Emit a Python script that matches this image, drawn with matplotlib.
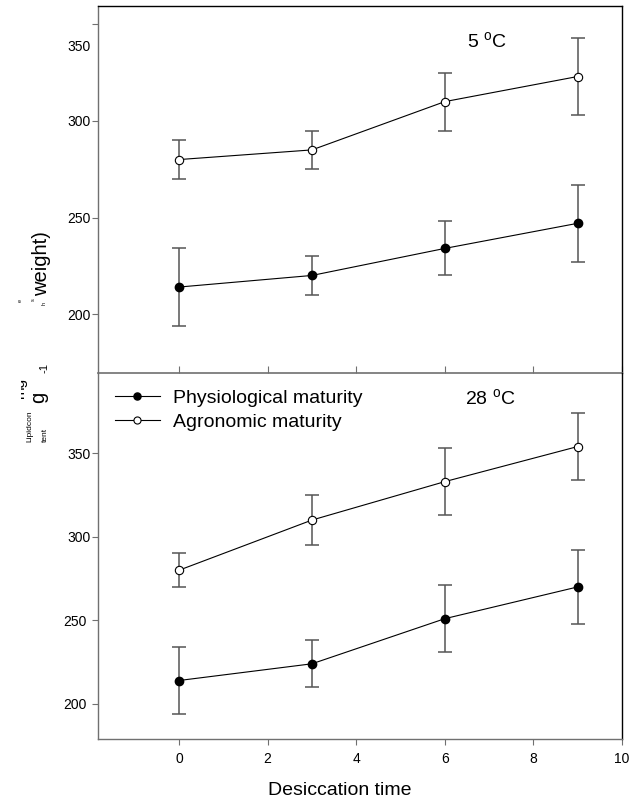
import matplotlib
matplotlib.use('Agg')
import matplotlib.pyplot as plt
from matplotlib.transforms import ScaledTranslation, Bbox

plt.rcParams['font.family'] = ['Liberation Sans', 'DejaVu Sans']
plt.rcParams['mathtext.fontset'] = 'custom'
plt.rcParams['mathtext.rm'] = 'Liberation Sans'

# Desiccation time (x)
times = [0, 3, 6, 9]

# 5 oC panel
phys_5 = [214, 220, 234, 247]
phys_5_err = [20, 10, 14, 20]
agro_5 = [280, 285, 310, 323]
agro_5_err = [10, 10, 15, 20]

# 28 oC panel
phys_28 = [214, 224, 251, 270]
phys_28_err = [20, 14, 20, 22]
agro_28 = [280, 310, 333, 354]
agro_28_err = [10, 15, 20, 20]

yticks = [200, 250, 300, 350]
xticks = [0, 2, 4, 6, 8, 10]

W, H = 634, 805
fig = plt.figure(figsize=(W / 100, H / 100), dpi=100)

left, right = 98 / W, 622 / W
ax1 = fig.add_axes([left, 1 - 373 / H, right - left, (373 - 6) / H])
ax2 = fig.add_axes([left, 1 - 739 / H, right - left, (739 - 373) / H])
for a in (ax1, ax2):
    a.patch.set_visible(False)

gray = '#707070'
errc = '#555555'


def draw_panel(ax, phys, phys_err, agro, agro_err):
    ax.errorbar(times, phys, yerr=phys_err, fmt='none', ecolor=errc,
                elinewidth=1.1, capsize=5, capthick=1.1, zorder=2)
    ax.errorbar(times, agro, yerr=agro_err, fmt='none', ecolor=errc,
                elinewidth=1.1, capsize=5, capthick=1.1, zorder=2)
    l1, = ax.plot(times, phys, '-o', color='black', lw=0.8, ms=6,
                  mfc='black', mec='black', zorder=3,
                  label='Physiological maturity')
    l2, = ax.plot(times, agro, '-o', color='black', lw=0.8, ms=6,
                  mfc='white', mec='black', mew=0.8, zorder=3,
                  label='Agronomic maturity')
    ax.set_xlim(-1.83, 10)
    ax.set_xticks(xticks)
    ax.set_yticks(yticks)
    ax.tick_params(axis='y', direction='out', length=4, width=0.8,
                   color=gray, labelsize=10, pad=1.5)
    ax.spines['left'].set_color(gray)
    ax.spines['bottom'].set_color(gray)
    ax.spines['top'].set_color('black')
    ax.spines['right'].set_color('black')
    for s in ax.spines.values():
        s.set_linewidth(1.0)
    return l1, l2


draw_panel(ax1, phys_5, phys_5_err, agro_5, agro_5_err)
ax1.set_ylim(169.5, 359.5)
ax1.tick_params(axis='x', direction='in', length=5, width=0.8, color=gray,
                labelbottom=False)
ax1.spines['bottom'].set_linewidth(1.2)

h1, h2 = draw_panel(ax2, phys_28, phys_28_err, agro_28, agro_28_err)
ax2.set_ylim(179, 398)
ax2.spines['top'].set_visible(False)
ax2.tick_params(axis='x', direction='out', length=4, width=0.8, color=gray,
                labelsize=10, pad=5)

# quirky label offsets seen in the original
lab = ax1.get_yticklabels()
lab[3].set_transform(lab[3].get_transform() +
                     ScaledTranslation(0, -0.21, fig.dpi_scale_trans))
lab2 = ax2.get_yticklabels()
for i in (0, 1):
    lab2[i].set_transform(lab2[i].get_transform() +
                          ScaledTranslation(-0.035, 0, fig.dpi_scale_trans))

ax1.text(6.51, 341, r'5 $^{\mathrm{o}}$C', fontsize=14, ha='left', va='center')
ax2.text(6.45, 382.5, r'28 $^{\mathrm{o}}$C', fontsize=14, ha='left', va='center')

ax2.legend(handles=[h1, h2], loc='upper left', bbox_to_anchor=(0.0324, 0.956),
           frameon=False, fontsize=14, borderpad=0, borderaxespad=0,
           handlelength=2.3, handletextpad=0.7, labelspacing=0.33,
           markerscale=0.85)

fig.text(340 / W, 1 - 790 / H, 'Desiccation time', fontsize=14,
         ha='center', va='center')


def ylab_piece(s, x, y, size, clip_x=None):
    t = fig.text(x / W, 1 - y / H, s, fontsize=size, rotation=90,
                 ha='center', va='center')
    if clip_x is not None:
        t.set_clip_box(Bbox.from_extents(clip_x, 0, W, H))
        t.set_clip_on(True)
    return t


# broken y-axis title as it appears in the original
ylab_piece('weight)', 42, 264, 14.5)
ylab_piece('e', 20, 300, 4)
ylab_piece('s', 33, 300, 4)
ylab_piece('h', 44, 303, 4)
ylab_piece('-1', 45, 368, 8)
ylab_piece('mg', 20, 388, 11, clip_x=21)
ylab_piece('g', 39, 397, 14.5)
ylab_piece('Lipidcon', 30, 426, 6)
ylab_piece('tent', 45, 435, 6)

fig.savefig('out.png', dpi=100)
